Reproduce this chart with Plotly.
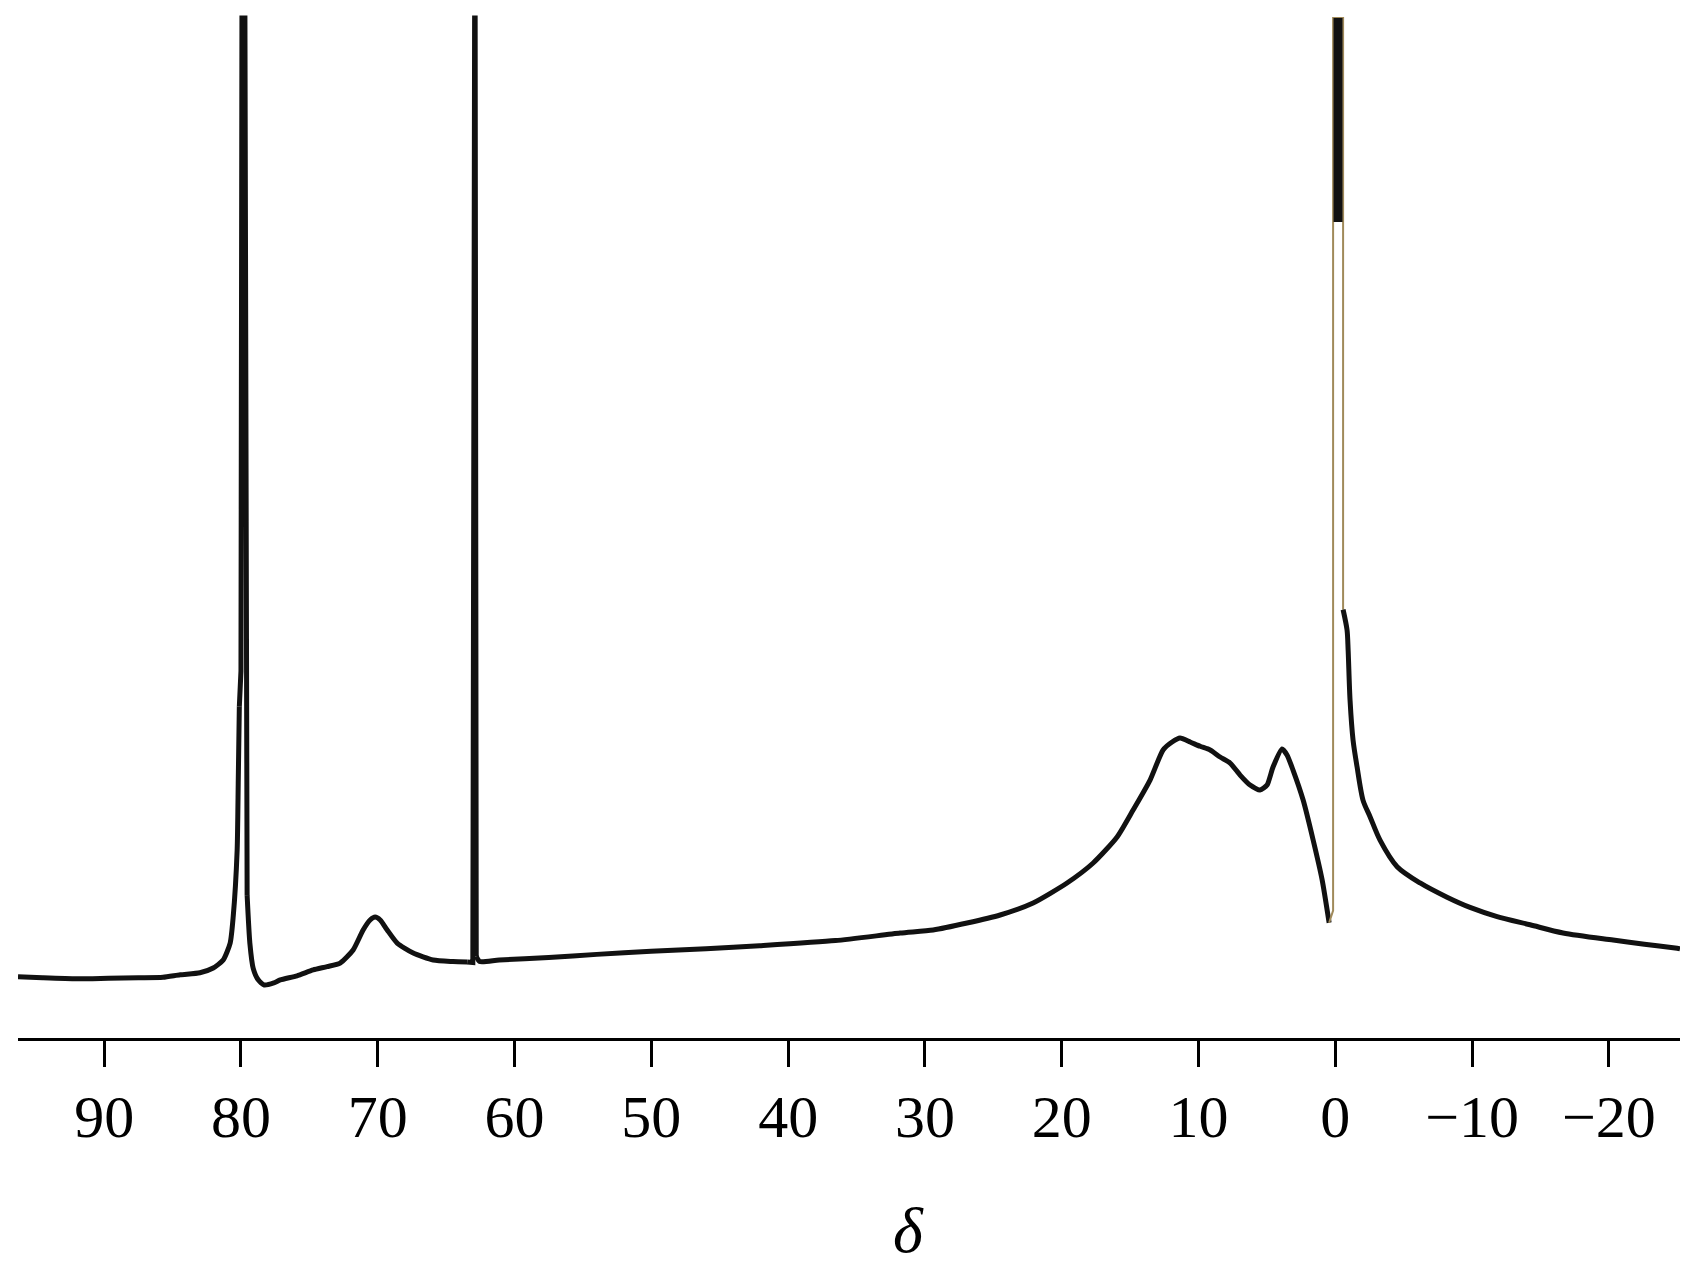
import plotly.graph_objects as go

# Chemical shift (delta) and intensity
main_delta = [96.30, 94.5, 92.0, 89.7, 87.5, 85.7, 84.44, 83.0, 82.03, 81.30, 80.79, 80.57, 80.28, 80.20,
              80.12, 80.00, 79.93, 79.71, 79.55, 79.35, 79.10, 78.74, 78.30, 77.60, 77.13, 75.90, 74.72,
              73.70, 72.75, 71.80, 71.07, 70.56, 70.19, 69.82, 69.31, 68.58, 67.41, 65.95, 64.50, 63.46,
              63.05, 62.92, 62.88, 62.80, 62.55,
              61.12, 57.5, 53.99, 50.02, 46.0, 42.09, 36.54, 31.81, 29.40, 26.92, 24.50, 22.09, 19.61,
              17.70, 15.95, 14.78, 13.54, 12.59, 11.93, 11.35, 10.61, 9.88,
              9.15, 8.42, 7.69, 6.96, 6.23, 5.50, 4.99, 4.55, 3.89, 3.53, 3.09, 2.35, 1.62, 0.96, 0.45]
main_int = [6.0, 5.9, 5.8, 5.85, 5.9, 5.95, 6.2, 6.4, 6.86, 7.65, 9.31, 11.86, 18.4, 25.0,
            32.5, 36.0, 100, 100, 14.0, 9.3, 6.8, 5.7, 5.2, 5.4, 5.69, 6.1, 6.67,
            7.0, 7.35, 8.63, 10.59, 11.57, 11.86, 11.57, 10.59, 9.31, 8.33, 7.65, 7.5, 7.45,
            7.4, 100, 100, 8.0, 7.5,
            7.65, 7.9, 8.2, 8.5, 8.75, 9.05, 9.55, 10.29, 10.59, 11.27, 12.06, 13.24, 15.20,
            17.16, 19.71, 22.35, 25.29, 28.24, 29.02, 29.41, 29.02, 28.60,
            28.24, 27.55, 26.96, 25.78, 24.80, 24.31, 24.80, 26.57, 28.33, 27.75, 26.27, 23.33, 19.41, 15.49, 11.3]

spike_delta = [0.45, 0.16, 0.16, -0.57, -0.57]
spike_int = [11.3, 12.5, 100, 100, 42]

spike_top_delta = [-0.2, -0.2]
spike_top_int = [80, 100]

right_delta = [-0.57, -0.86, -0.94, -1.08, -1.30, -1.59, -2.03, -2.54, -3.27, -4.52, -6.20, -8.17, -9.85,
               -11.83, -14.24, -16.65, -20.31, -22.6, -24.99, -25.2]
right_int = [42.0, 40.0, 38.0, 33.1, 29.2, 26.6, 23.3, 21.7, 19.4, 16.8, 15.2, 13.8, 12.8,
             11.9, 11.1, 10.3, 9.6, 9.2, 8.8, 8.75]

tick_vals = [90, 80, 70, 60, 50, 40, 30, 20, 10, 0, -10, -20]
tick_text = ["90", "80", "70", "60", "50", "40", "30", "20", "10", "0", "\u221210", "\u221220"]

BLACK = "#111111"
fig = go.Figure()

# split the main trace: sharp peaks drawn with straight segments, the rest smoothed
peak_idx = [i for i, v in enumerate(main_int) if v >= 100]
groups = []
for i in peak_idx:
    if groups and i == groups[-1][1] + 1:
        groups[-1][1] = i
    else:
        groups.append([i, i])

start = 0
for a, b in groups:
    lo, hi = a - 2, b + 1
    fig.add_trace(go.Scatter(x=main_delta[start:lo + 1], y=main_int[start:lo + 1], mode="lines",
                             line=dict(color=BLACK, width=5, shape="spline", smoothing=0.6),
                             showlegend=False, hoverinfo="skip"))
    fig.add_trace(go.Scatter(x=main_delta[lo:hi + 1], y=main_int[lo:hi + 1], mode="lines",
                             line=dict(color=BLACK, width=5), showlegend=False, hoverinfo="skip"))
    start = hi
fig.add_trace(go.Scatter(x=main_delta[start:], y=main_int[start:], mode="lines",
                         line=dict(color=BLACK, width=5, shape="spline", smoothing=0.6),
                         showlegend=False, hoverinfo="skip"))

fig.add_trace(go.Scatter(x=spike_delta, y=spike_int, mode="lines",
                         line=dict(color="#a08a5a", width=2), showlegend=False, hoverinfo="skip"))
fig.add_trace(go.Scatter(x=spike_top_delta, y=spike_top_int, mode="lines",
                         line=dict(color=BLACK, width=9), showlegend=False, hoverinfo="skip"))
fig.add_trace(go.Scatter(x=right_delta, y=right_int, mode="lines",
                         line=dict(color=BLACK, width=5, shape="spline", smoothing=0.8),
                         showlegend=False, hoverinfo="skip"))

fig.update_layout(
    width=1693, height=1266,
    margin=dict(l=10, r=21, t=6, b=236),
    paper_bgcolor="white", plot_bgcolor="white",
    font=dict(family="Liberation Serif", color="black"),
    xaxis=dict(range=[96.3, -25.2], tickvals=tick_vals, ticktext=tick_text,
               showline=True, linecolor="black", linewidth=3,
               ticks="outside", ticklen=26, tickwidth=3, tickcolor="black",
               showgrid=False, zeroline=False,
               tickfont=dict(family="Liberation Serif", size=60, color="black"),
               ticklabelstandoff=-2),
    yaxis=dict(range=[0, 100.4], visible=False, showgrid=False, zeroline=False),
    annotations=[dict(x=31.2, xref="x", y=-0.188, yref="paper", text="<i>\u03b4</i>",
                      showarrow=False, yanchor="middle", xanchor="center",
                      font=dict(family="Liberation Serif", size=64, color="black"))],
)

fig.write_html("out.html")
